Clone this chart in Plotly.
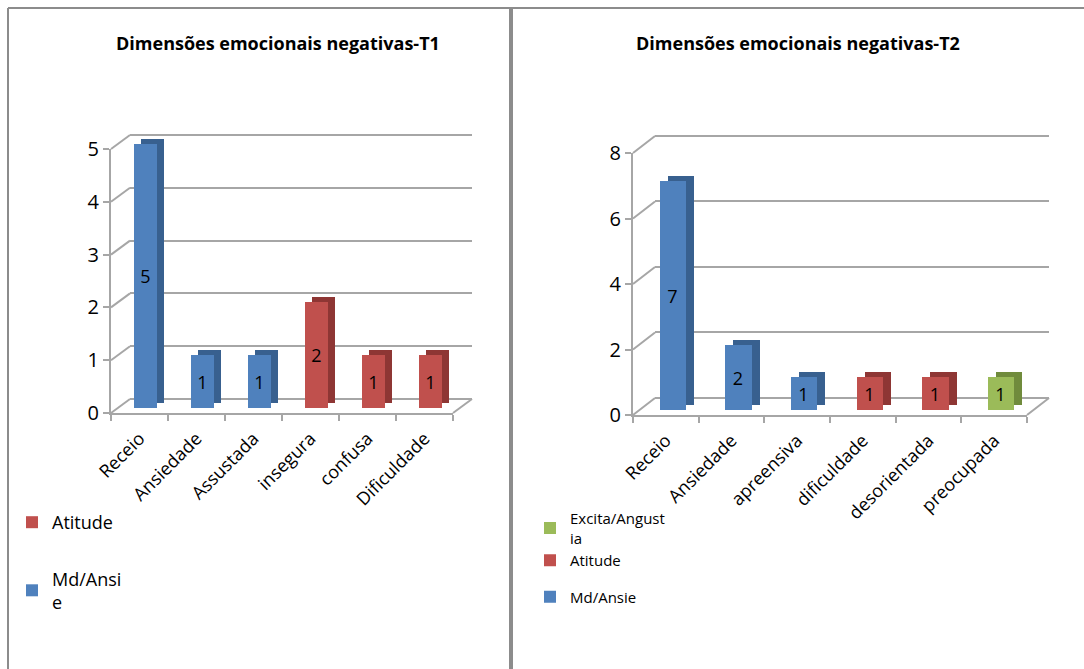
import plotly.graph_objects as go

# data
cats_t1 = ["Receio", "Ansiedade", "Assustada", "insegura", "confusa", "Dificuldade"]
vals_t1 = [5, 1, 1, 2, 1, 1]
grps_t1 = ["Md/Ansie", "Md/Ansie", "Md/Ansie", "Atitude", "Atitude", "Atitude"]

cats_t2 = ["Receio", "Ansiedade", "apreensiva", "dificuldade", "desorientada", "preocupada"]
vals_t2 = [7, 2, 1, 1, 1, 1]
grps_t2 = ["Md/Ansie", "Md/Ansie", "Md/Ansie", "Atitude", "Atitude", "Excita/Angustia"]

titles = ["Dimensões emocionais negativas-T1", "Dimensões emocionais negativas-T2"]
legend_t1 = {"Md/Ansie": "Md/Ansi<br>e", "Atitude": "Atitude"}
legend_t2 = {"Md/Ansie": "Md/Ansie", "Atitude": "Atitude", "Excita/Angustia": "Excita/Angust<br>ia"}
# legend order (top first) and groups (spacing only)
rank_t1 = {"Atitude": 1, "Md/Ansie": 2}
rank_t2 = {"Excita/Angustia": 1, "Atitude": 2, "Md/Ansie": 3}
lgroup_t1 = {"Atitude": "a", "Md/Ansie": "b"}
lgroup_t2 = {"Excita/Angustia": "a", "Atitude": "a", "Md/Ansie": "b"}

colors = {"Md/Ansie": "#4F81BD", "Atitude": "#C0504D", "Excita/Angustia": "#9BBB59"}
sides = {"Md/Ansie": "#38608F", "Atitude": "#8E3634", "Excita/Angustia": "#708B3C"}

W, H = 1084, 669
FONT = "Open Sans"
GRID = "#A6A6A6"


def xd(a, b):
    return [a / W, b / W]


def yd(top, bottom):
    return [1 - bottom / H, 1 - top / H]


def ax(i, letter):
    return letter + "axis" + ("" if i == 1 else str(i))


def ref(i, letter):
    return letter + ("" if i == 1 else str(i))


fig = go.Figure()
shapes = []

panels = [
    # cats, vals, groups, legend labels, legend groups, ranks, first axis id, front box (x0,x1,ytop,ybot),
    # ymax, dtick, bar offset, depth offset, back-wall offset, legend id
    (cats_t1, vals_t1, grps_t1, legend_t1, lgroup_t1, rank_t1, 1, (111, 453, 149, 413), 5, 1,
     (6, -5), (7, -5), (19, -14), "legend"),
    (cats_t2, vals_t2, grps_t2, legend_t2, lgroup_t2, rank_t2, 5, (633, 1027, 153, 415), 8, 2,
     (6.5, -5), (8, -5), (22, -17), "legend2"),
]

for cats, vals, grps, leg, lg, rk, k, box, ymax, dt, boff, doff, bkoff, legname in panels:
    fx0, fx1, fyt, fyb = box
    back, depth, bars, front = k, k + 1, k + 2, k + 3
    bx0, by0 = bkoff
    dx0, dy0 = boff[0] + doff[0], boff[1] + doff[1]
    xr = [-0.5, len(cats) - 0.5]
    ppu = (fyb - fyt) / ymax

    # back wall with gridlines (top edge nudged so the last gridline is drawn)
    fig.layout[ax(back, "x")] = dict(domain=xd(fx0 + bx0, fx1 + bx0), anchor=ref(back, "y"),
                                     range=xr, showticklabels=False, showgrid=False, zeroline=False,
                                     showline=False, ticks="", automargin=False)
    fig.layout[ax(back, "y")] = dict(domain=yd(fyt + by0 - 0.1 * ppu, fyb + by0), anchor=ref(back, "x"),
                                     range=[0, ymax + 0.1], dtick=dt, showticklabels=False, ticks="",
                                     showgrid=True, gridcolor=GRID, gridwidth=2, showline=False,
                                     zeroline=True, zerolinecolor=GRID, zerolinewidth=2, automargin=False)
    fig.add_trace(go.Scatter(x=[], y=[], xaxis=ref(back, "x"), yaxis=ref(back, "y"),
                             showlegend=False, hoverinfo="skip"))
    # depth (side/top face) and front faces of bars
    for i, (ox, oy) in ((depth, (dx0, dy0)), (bars, boff)):
        fig.layout[ax(i, "x")] = dict(domain=xd(fx0 + ox, fx1 + ox), anchor=ref(i, "y"),
                                      type="category", categoryarray=cats, range=xr, visible=False,
                                      automargin=False)
        fig.layout[ax(i, "y")] = dict(domain=yd(fyt + oy, fyb + oy), anchor=ref(i, "x"),
                                      range=[0, ymax], visible=False, automargin=False)
    # front axes carrying the labels
    fig.layout[ax(front, "x")] = dict(domain=xd(fx0, fx1), anchor=ref(front, "y"), range=xr,
                                      tickmode="array", tickvals=list(range(len(cats))), ticktext=cats,
                                      tickangle=-45, ticks="", ticklabelstandoff=6, automargin=False,
                                      tickfont=dict(family=FONT, size=18, color="#000"),
                                      showline=True, linecolor=GRID, linewidth=2,
                                      showgrid=False, zeroline=False,
                                      minor=dict(tickmode="array",
                                                 tickvals=[j - 0.5 for j in range(len(cats) + 1)],
                                                 ticks="outside", ticklen=6, tickcolor=GRID, tickwidth=2,
                                                 showgrid=False))
    fig.layout[ax(front, "y")] = dict(domain=yd(fyt, fyb), anchor=ref(front, "x"), range=[0, ymax], dtick=dt,
                                      ticks="outside", ticklen=6, tickcolor=GRID, tickwidth=2,
                                      tickfont=dict(family=FONT, size=20, color="#000"), automargin=False,
                                      showline=True, linecolor=GRID, linewidth=2,
                                      showgrid=False, zeroline=False)
    fig.add_trace(go.Scatter(x=[], y=[], xaxis=ref(front, "x"), yaxis=ref(front, "y"),
                             showlegend=False, hoverinfo="skip"))

    order = []
    for g in grps:
        if g not in order:
            order.append(g)
    for g in order:
        xs = [c for c, gg in zip(cats, grps) if gg == g]
        ys = [v for v, gg in zip(vals, grps) if gg == g]
        fig.add_trace(go.Bar(x=xs, y=ys, width=0.4, marker=dict(color=sides[g], line=dict(width=0)),
                             xaxis=ref(depth, "x"), yaxis=ref(depth, "y"),
                             showlegend=False, hoverinfo="skip"))
    for g in order:
        xs = [c for c, gg in zip(cats, grps) if gg == g]
        ys = [v for v, gg in zip(vals, grps) if gg == g]
        fig.add_trace(go.Bar(x=xs, y=ys, width=0.4, name=leg[g], legend=legname, legendgroup=lg[g],
                             legendrank=rk[g],
                             marker=dict(color=colors[g], line=dict(width=0)),
                             text=[str(v) for v in ys], textposition="inside", insidetextanchor="middle",
                             textangle=0, textfont=dict(family=FONT, size=18, color="#000"),
                             xaxis=ref(bars, "x"), yaxis=ref(bars, "y")))

    # side wall and floor edges joining the front axes to the back wall
    for v in range(0, ymax + 1, dt):
        yf = fyb - v * ppu
        shapes.append(dict(type="line", xref="paper", yref="paper", layer="below",
                           x0=fx0 / W, y0=1 - yf / H, x1=(fx0 + bx0) / W, y1=1 - (yf + by0) / H,
                           line=dict(color=GRID, width=2)))
    shapes.append(dict(type="line", xref="paper", yref="paper", layer="below",
                       x0=fx1 / W, y0=1 - fyb / H, x1=(fx1 + bx0) / W, y1=1 - (fyb + by0) / H,
                       line=dict(color=GRID, width=2)))

# frame of the two chart boxes
frame = dict(color="#8C8C8C", width=2)
shapes += [
    dict(type="line", xref="paper", yref="paper", x0=8 / W, x1=1, y0=1 - 8 / H, y1=1 - 8 / H, line=frame),
    dict(type="line", xref="paper", yref="paper", x0=8 / W, x1=8 / W, y0=0, y1=1 - 8 / H, line=frame),
    dict(type="line", xref="paper", yref="paper", x0=511 / W, x1=511 / W, y0=0, y1=1 - 8 / H,
         line=dict(color="#8C8C8C", width=4)),
]

annotations = [
    dict(text="<b>%s</b>" % titles[0], x=278 / W, y=1 - 43 / H, xref="paper", yref="paper",
         xanchor="center", yanchor="middle", showarrow=False,
         font=dict(family=FONT, size=18, color="#000")),
    dict(text="<b>%s</b>" % titles[1], x=798 / W, y=1 - 43 / H, xref="paper", yref="paper",
         xanchor="center", yanchor="middle", showarrow=False,
         font=dict(family=FONT, size=18, color="#000")),
]

fig.update_layout(
    width=W, height=H, margin=dict(l=0, r=0, t=0, b=0, pad=0, autoexpand=False),
    paper_bgcolor="white", plot_bgcolor="rgba(0,0,0,0)",
    barmode="overlay", bargap=0,
    shapes=shapes, annotations=annotations,
    legend=dict(x=12 / W, y=1 - 504 / H, xanchor="left", yanchor="top", traceorder="grouped",
                tracegroupgap=30, font=dict(family=FONT, size=18, color="#000"),
                bgcolor="rgba(0,0,0,0)", itemwidth=30),
    legend2=dict(x=530 / W, y=1 - 502 / H, xanchor="left", yanchor="top", traceorder="grouped",
                 tracegroupgap=14, font=dict(family=FONT, size=15, color="#000"),
                 bgcolor="rgba(0,0,0,0)", itemwidth=30),
    showlegend=True,
)

fig.write_html("out.html", config={"displayModeBar": False},
               post_script="document.body.style.margin='0';")
